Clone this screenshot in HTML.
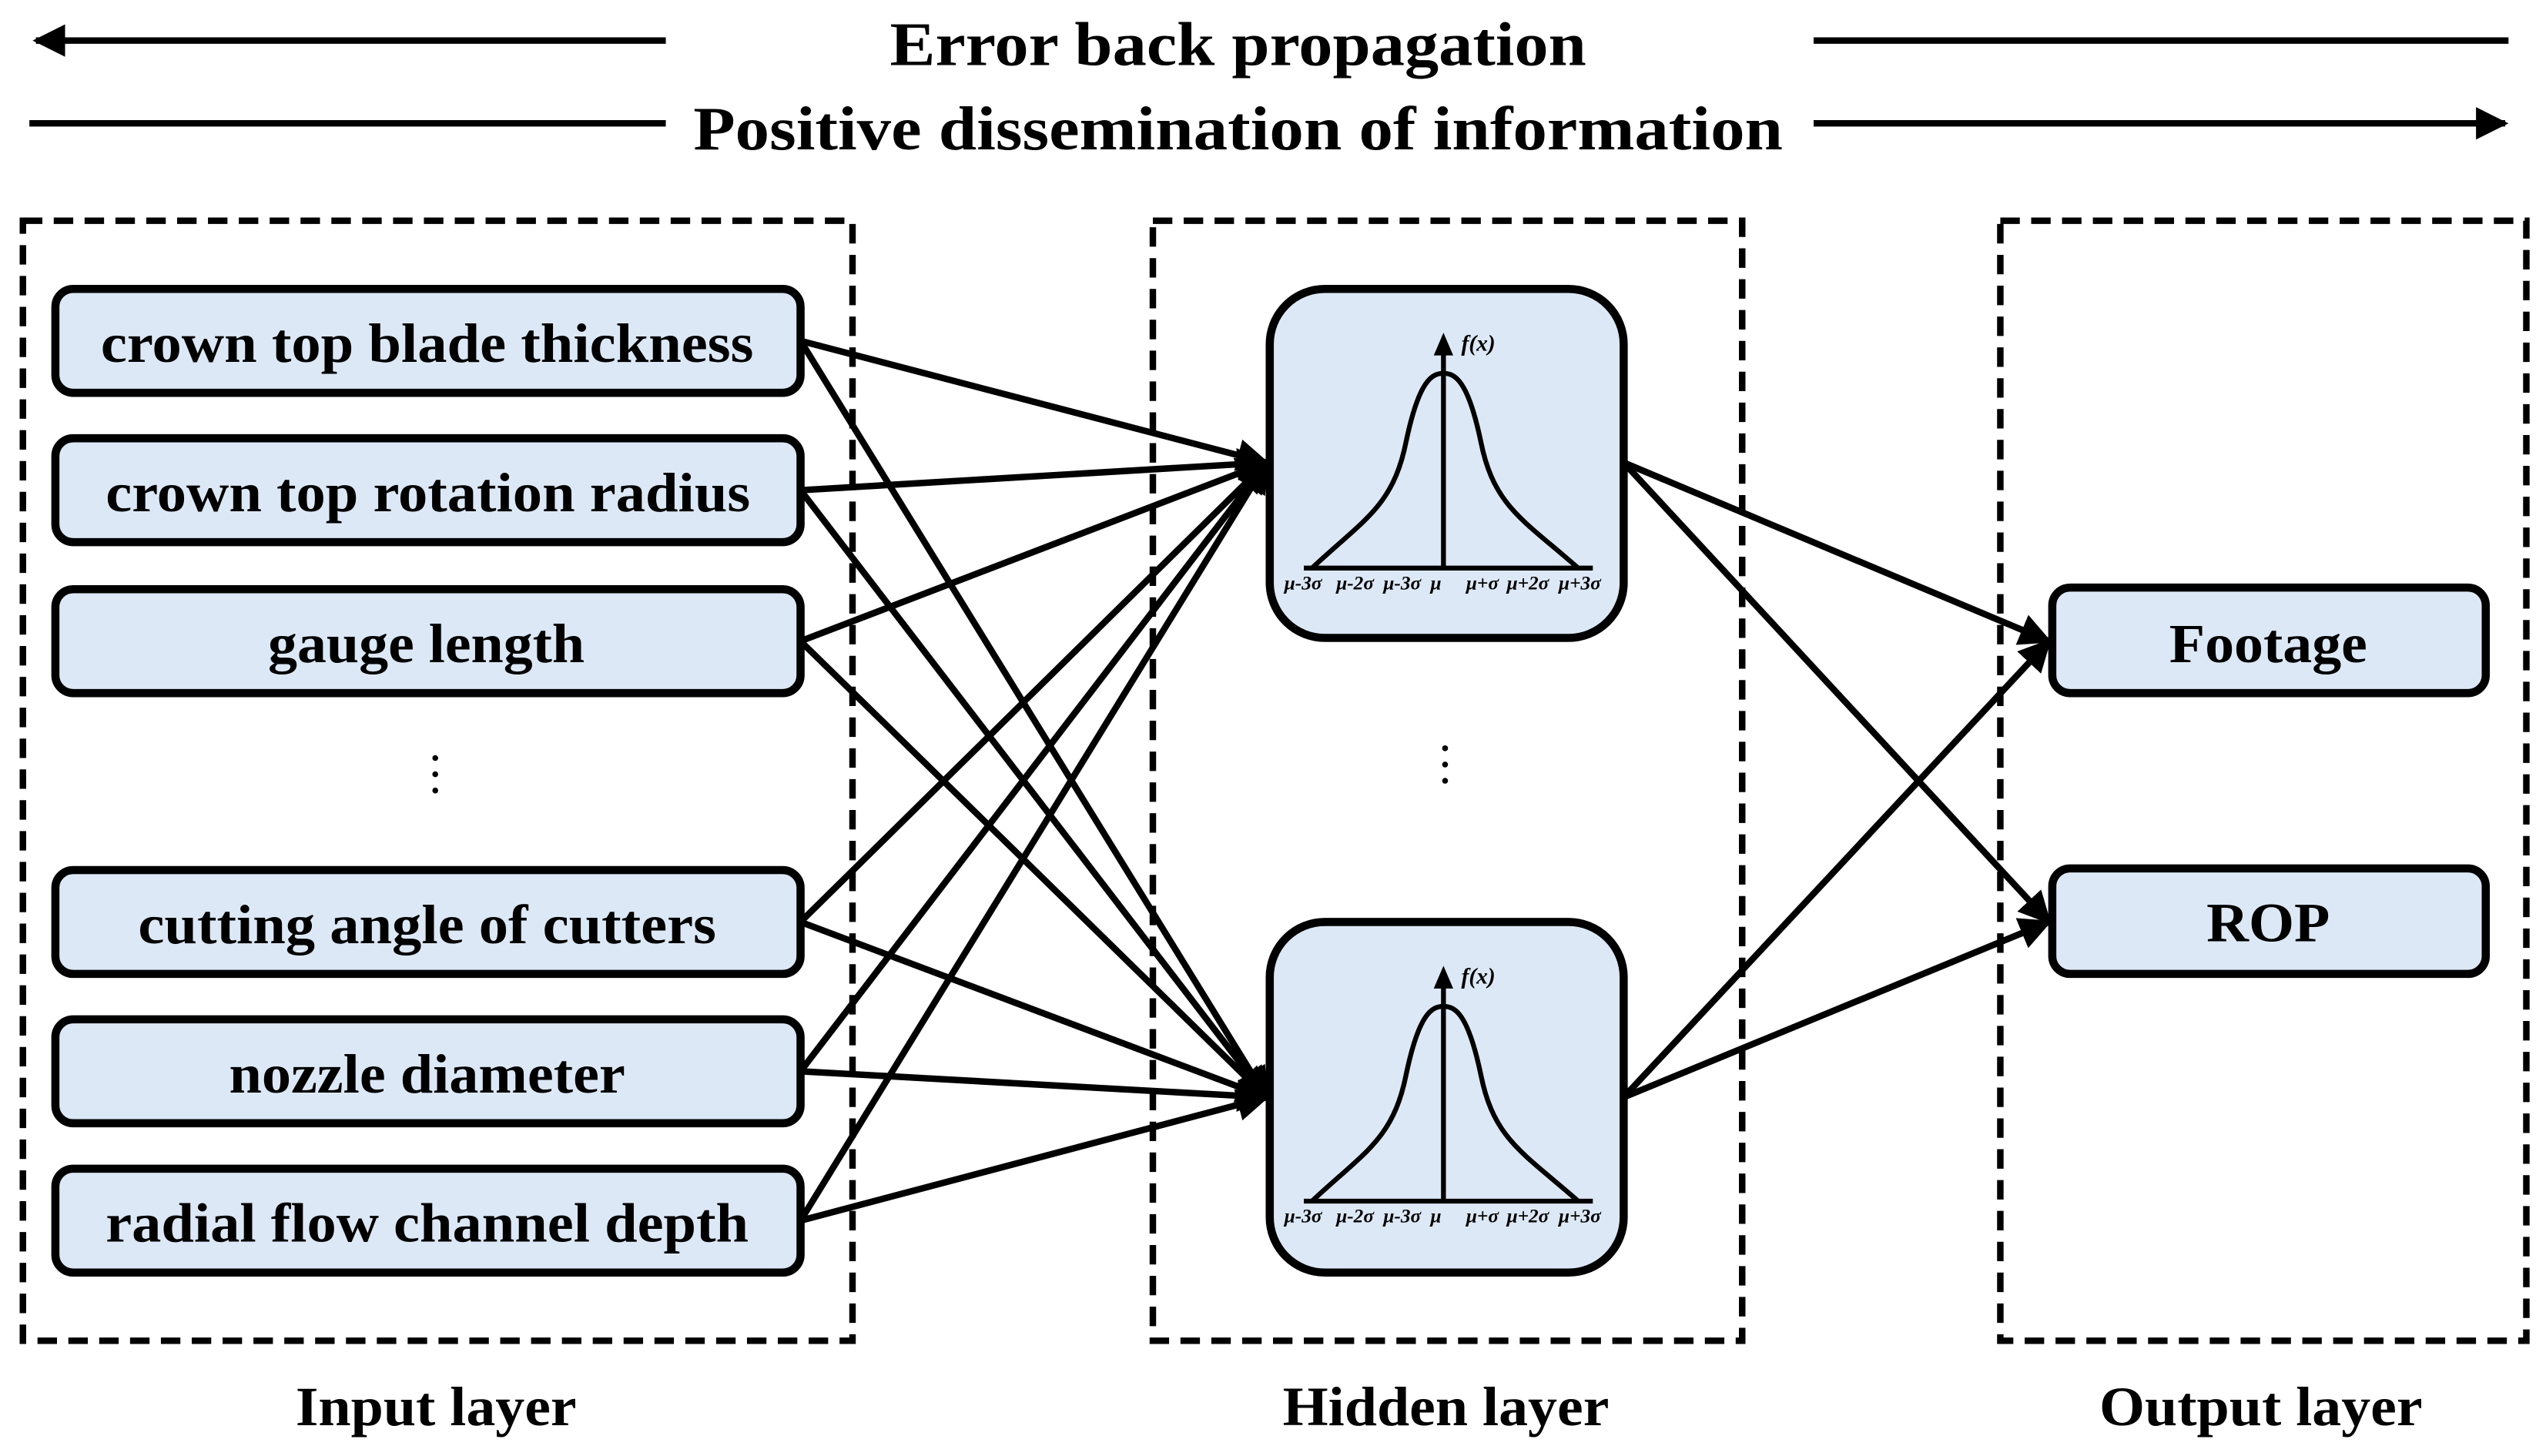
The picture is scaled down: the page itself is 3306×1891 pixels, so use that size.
<!DOCTYPE html>
<html><head><meta charset="utf-8"><style>
html,body{margin:0;padding:0;background:#fff;}
svg{display:block;}
text{font-family:"Liberation Serif",serif;font-weight:bold;fill:#000;}
</style></head><body>
<svg width="3306" height="1891" viewBox="0 0 1568 897" xmlns="http://www.w3.org/2000/svg">
<defs>
<marker id="ah" viewBox="0 0 10 10" refX="9" refY="5" markerWidth="5" markerHeight="5" markerUnits="strokeWidth" orient="auto">
<path d="M0,0 L10,5 L0,10 z" fill="#000"/></marker>
<g id="gauss">
<line x1="803" y1="350" x2="981" y2="350" stroke="#000" stroke-width="3"/>
<line x1="889" y1="350" x2="889" y2="214" stroke="#000" stroke-width="3"/>
<path d="M883,219 L889,205 L895,219 z" fill="#000"/>
<path d="M808,350 C840,320 858,312 866,272 C874,234 882,230 889,230 C896,230 904,234 912,272 C920,312 938,320 972,350" fill="none" stroke="#000" stroke-width="3"/>
<text x="900" y="216" font-size="14" font-style="italic" font-weight="normal">f(x)</text>
<g font-size="12" font-style="italic" font-weight="normal">
<text x="791" y="363">μ-3σ</text><text x="823" y="363">μ-2σ</text><text x="852" y="363">μ-3σ</text><text x="881" y="363">μ</text>
<text x="903" y="363">μ+σ</text><text x="928" y="363">μ+2σ</text><text x="960" y="363">μ+3σ</text>
</g>
</g>
</defs>

<line x1="410" y1="25" x2="22" y2="25" stroke="#000" stroke-width="4" marker-end="url(#ah)"/>
<line x1="1117" y1="25" x2="1545" y2="25" stroke="#000" stroke-width="4"/>
<line x1="18" y1="76" x2="410" y2="76" stroke="#000" stroke-width="4"/>
<line x1="1117" y1="76" x2="1543" y2="76" stroke="#000" stroke-width="4" marker-end="url(#ah)"/>
<text x="548" y="40" font-size="38" textLength="429" lengthAdjust="spacingAndGlyphs">Error back propagation</text>
<text x="427" y="92" font-size="38" textLength="671" lengthAdjust="spacingAndGlyphs">Positive dissemination of information</text>

<g fill="none" stroke="#000" stroke-width="4" stroke-dasharray="12,7">
<rect x="14" y="136" width="511" height="690"/>
<rect x="710" y="136" width="363" height="690"/>
<rect x="1232" y="136" width="324" height="690"/>
</g>

<g stroke="#000" stroke-width="4" marker-end="url(#ah)">
<line x1="493" y1="210" x2="780" y2="285"/><line x1="493" y1="210" x2="780" y2="676"/>
<line x1="493" y1="302" x2="780" y2="285"/><line x1="493" y1="302" x2="780" y2="676"/>
<line x1="493" y1="395" x2="780" y2="285"/><line x1="493" y1="395" x2="780" y2="676"/>
<line x1="493" y1="568" x2="780" y2="285"/><line x1="493" y1="568" x2="780" y2="676"/>
<line x1="493" y1="660" x2="780" y2="285"/><line x1="493" y1="660" x2="780" y2="676"/>
<line x1="493" y1="752" x2="780" y2="285"/><line x1="493" y1="752" x2="780" y2="676"/>
<line x1="1000" y1="285" x2="1262" y2="395"/><line x1="1000" y1="285" x2="1262" y2="568"/>
<line x1="1000" y1="676" x2="1262" y2="395"/><line x1="1000" y1="676" x2="1262" y2="568"/>
</g>

<g fill="#dce8f5" stroke="#000" stroke-width="5">
<rect x="34" y="178" width="459" height="64" rx="11"/>
<rect x="34" y="270" width="459" height="64" rx="11"/>
<rect x="34" y="363" width="459" height="64" rx="11"/>
<rect x="34" y="536" width="459" height="64" rx="11"/>
<rect x="34" y="628" width="459" height="64" rx="11"/>
<rect x="34" y="720" width="459" height="64" rx="11"/>
<rect x="1264" y="362" width="267" height="65" rx="11"/>
<rect x="1264" y="535" width="267" height="65" rx="11"/>
<rect x="782" y="178" width="218" height="215" rx="34"/>
<rect x="782" y="568" width="218" height="216" rx="34"/>
</g>
<g font-size="34" lengthAdjust="spacingAndGlyphs">
<text x="62" y="223" textLength="402" lengthAdjust="spacingAndGlyphs">crown top blade thickness</text>
<text x="65" y="315" textLength="397" lengthAdjust="spacingAndGlyphs">crown top rotation radius</text>
<text x="165" y="408" textLength="195" lengthAdjust="spacingAndGlyphs">gauge length</text>
<text x="85" y="581" textLength="356" lengthAdjust="spacingAndGlyphs">cutting angle of cutters</text>
<text x="141" y="673" textLength="244" lengthAdjust="spacingAndGlyphs">nozzle diameter</text>
<text x="65" y="765" textLength="396" lengthAdjust="spacingAndGlyphs">radial flow channel depth</text>
<text x="1336" y="408" textLength="122" lengthAdjust="spacingAndGlyphs">Footage</text>
<text x="1359" y="580" textLength="76" lengthAdjust="spacingAndGlyphs">ROP</text>
</g>
<use href="#gauss"/>
<use href="#gauss" transform="translate(0,390)"/>

<g fill="#000">
<circle cx="268" cy="467" r="1.8"/><circle cx="268" cy="477" r="1.8"/><circle cx="268" cy="487" r="1.8"/>
<circle cx="890" cy="461" r="1.8"/><circle cx="890" cy="471" r="1.8"/><circle cx="890" cy="481" r="1.8"/>
</g>

<g font-size="34">
<text x="182" y="878" textLength="173" lengthAdjust="spacingAndGlyphs">Input layer</text>
<text x="790" y="878" textLength="201" lengthAdjust="spacingAndGlyphs">Hidden layer</text>
<text x="1293" y="878" textLength="199" lengthAdjust="spacingAndGlyphs">Output layer</text>
</g>
</svg>
</body></html>
